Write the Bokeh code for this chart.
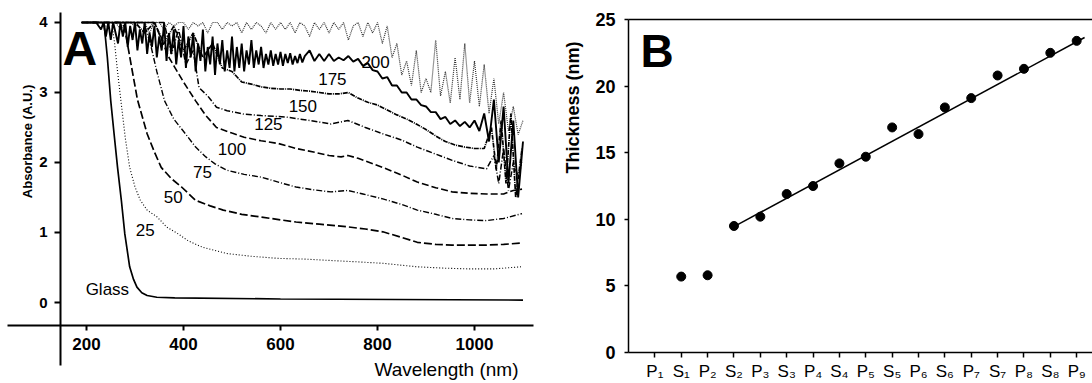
import math
from bokeh.plotting import figure
from bokeh.models import LinearAxis, Label, FixedTicker, ColumnDataSource
from bokeh.layouts import row
from bokeh.core.properties import value
from bokeh.embed import file_html
from bokeh.resources import INLINE

FONT = "Liberation Sans"

# ---------------- Panel A data: absorbance spectra ----------------
glass_nm = [190, 236, 243, 250, 257, 264, 272, 279, 289, 297, 304, 314, 325, 345, 382, 600, 1100]
glass_a = [4.0, 4.0, 3.5, 2.88, 2.4, 1.93, 1.45, 0.98, 0.51, 0.33, 0.22, 0.14, 0.10, 0.075, 0.067, 0.05, 0.035]

s25_nm = [190, 252, 258, 264, 271, 280, 289, 300, 311, 325, 346, 365, 389, 410, 439, 489, 540, 596, 650,
          704, 760, 811, 882, 940, 989, 1040, 1096]
s25_a = [4.0, 4.0, 3.7, 3.3, 2.88, 2.35, 1.93, 1.65, 1.46, 1.32, 1.22, 1.08, 0.98, 0.88, 0.79, 0.70, 0.66, 0.63, 0.62,
         0.60, 0.58, 0.56, 0.51, 0.49, 0.48, 0.48, 0.51]

s50_nm = [190, 276, 283, 293, 305, 325, 340, 354, 375, 396, 425, 455, 482, 520, 561, 600, 632, 680, 739, 775,
          811, 850, 882, 920, 954, 1025, 1060, 1098]
s50_a = [4.0, 4.0, 3.75, 3.36, 2.9, 2.41, 2.15, 1.93, 1.77, 1.65, 1.46, 1.38, 1.32, 1.26, 1.22, 1.18, 1.15, 1.12, 1.08, 1.05,
         1.01, 0.93, 0.86, 0.83, 0.82, 0.82, 0.83, 0.85]

s75_nm = [190, 318, 325, 332, 345, 361, 380, 404, 425, 446, 465, 489, 525, 561, 600, 632, 668, 704, 739, 770,
          811, 850, 882, 920, 954, 990, 1025, 1060, 1098]
s75_a = [4.0, 4.0, 3.85, 3.69, 3.3, 2.88, 2.62, 2.41, 2.22, 2.08, 1.98, 1.89, 1.83, 1.79, 1.71, 1.65, 1.61, 1.58, 1.6, 1.55,
         1.48, 1.4, 1.32, 1.26, 1.2, 1.18, 1.17, 1.2, 1.27]

s100_nm = [190, 340, 355, 370, 382, 400, 425, 445, 468, 500, 525, 560, 596, 632, 668, 700, 725, 739, 760, 811,
           850, 882, 920, 954, 990, 1025, 1060, 1080, 1098]
s100_a = [4.0, 4.0, 3.75, 3.5, 3.36, 3.15, 2.88, 2.68, 2.5, 2.42, 2.36, 2.31, 2.27, 2.2, 2.15, 2.1, 2.08, 2.1, 2.06, 1.93,
          1.82, 1.72, 1.64, 1.58, 1.56, 1.55, 1.55, 1.6, 1.62]

s125_nm = [190, 360, 375, 390, 405, 420, 432, 450, 468, 490, 525, 560, 611, 660, 704, 739, 775, 811, 850, 882,
           920, 954, 990, 1025, 1040, 1050, 1060, 1070, 1080, 1090, 1098]
s125_a = [4.0, 4.0, 3.55, 3.9, 3.4, 3.6, 3.07, 2.95, 2.79, 2.74, 2.69, 2.67, 2.65, 2.6, 2.55, 2.6, 2.5, 2.41, 2.32, 2.22,
          2.12, 2.03, 1.95, 1.91, 2.1, 1.7, 2.2, 1.6, 2.0, 1.8, 2.0]

s150_nm = [190, 300, 320, 340, 360, 380, 400, 420, 440, 460, 480, 500, 520, 540, 560, 580, 600, 620, 640, 660,
           680, 700, 720, 740, 760, 780, 800, 820, 840, 860, 880, 900, 920, 940, 960, 980, 1000, 1020,
           1035, 1045, 1055, 1065, 1075, 1085, 1098]
s150_a = [4.0, 4.0, 3.85, 4.0, 3.7, 3.95, 3.6, 3.85, 3.5, 3.7, 3.35, 3.3, 3.15, 3.12, 3.08, 3.06, 3.05, 3.05, 3.03, 3.02,
          3.0, 2.98, 2.98, 3.0, 2.92, 2.86, 2.82, 2.75, 2.68, 2.62, 2.55, 2.47, 2.38, 2.3, 2.25, 2.22, 2.2, 2.2,
          2.5, 1.9, 2.6, 1.7, 2.7, 1.5, 2.2]

s175_nm = [200, 210, 220] + list(range(230, 651, 5)) + list(range(660, 1101, 10))
s175_a = [4.0, 4.0, 4.0,
          3.9, 4.0, 3.8, 4.0, 3.75, 4.0, 3.85, 3.7, 4.0, 3.8,
          4.0, 3.65, 3.95, 3.75, 4.0, 3.6, 3.9, 3.7, 4.0, 3.55,
          3.85, 3.65, 3.95, 3.5, 3.8, 3.6, 4.0, 3.45, 3.85, 3.55,
          3.9, 3.4, 3.75, 3.5, 3.95, 3.35, 3.8, 3.5, 3.85, 3.3,
          3.7, 3.45, 3.9, 3.3, 3.65, 3.4, 3.8, 3.25, 3.7, 3.4,
          3.75, 3.3, 3.6, 3.35, 3.8, 3.3, 3.65, 3.35, 3.7, 3.3,
          3.6, 3.4, 3.75, 3.35, 3.6, 3.4, 3.65, 3.35, 3.55, 3.4,
          3.6, 3.38, 3.55, 3.4, 3.58, 3.38, 3.55, 3.42, 3.56, 3.4,
          3.52, 3.42, 3.55, 3.43, 3.52,
          3.6, 3.45, 3.55, 3.45, 3.55, 3.45, 3.5, 3.46, 3.52, 3.44,
          3.48, 3.38, 3.42, 3.32, 3.3, 3.2, 3.22, 3.1, 3.1, 3.0,
          3.0, 2.9, 2.9, 2.82, 2.8, 2.72, 2.72, 2.62, 2.65, 2.55,
          2.6, 2.52, 2.58, 2.5, 2.6, 2.45, 2.7, 2.3, 2.9, 2.0,
          2.8, 1.7, 2.6, 1.5, 2.3]

s200_nm = list(range(200, 1101, 10))
s200_a = [4.0, 4.0, 4.0, 4.0, 3.95, 4.0, 4.0, 3.9, 4.0, 4.0,
          3.95, 4.0, 4.0, 3.85, 4.0, 4.0, 3.9, 4.0, 3.95, 4.0,
          4.0, 3.9, 4.0, 3.95, 4.0, 3.85, 4.0, 4.0, 3.9, 4.0,
          3.95, 4.0, 3.85, 4.0, 3.9, 4.0, 3.95, 3.85, 4.0, 3.9,
          4.0, 3.9, 4.0, 3.85, 4.0, 3.95, 3.8, 4.0, 3.9, 4.0,
          3.85, 4.0, 3.9, 4.0, 3.75, 3.95, 4.0, 3.8, 4.0, 3.85,
          4.0, 3.7, 3.95, 3.5, 3.7, 3.25, 3.45, 3.1, 3.6, 3.0,
          3.2, 3.0, 3.75, 2.95, 3.3, 2.85, 3.5, 2.9, 3.7, 2.85,
          3.45, 2.8, 3.4, 2.7, 3.2, 2.55, 3.0, 2.45, 2.8, 2.4,
          2.6]

curve_labels = ["Glass", "25", "50", "75", "100", "125", "150", "175", "200"]
curve_label_nm = [243, 321, 379, 439, 500, 575, 646, 707, 796]
curve_label_a = [0.18, 1.03, 1.5, 1.86, 2.19, 2.55, 2.81, 3.19, 3.43]

wl_ticks = [200, 400, 600, 800, 1000]
abs_ticks = [0, 1, 2, 3, 4]

# ---------------- Panel B data: thickness ----------------
layers = ["P₁", "S₁", "P₂", "S₂", "P₃", "S₃", "P₄", "S₄", "P₅", "S₅", "P₆", "S₆", "P₇", "S₇", "P₈", "S₈", "P₉"]
thickness = [float("nan"), 5.7, 5.8, 9.5, 10.2, 11.9, 12.5, 14.2, 14.7, 16.9, 16.4, 18.4, 19.1, 20.8, 21.3, 22.5, 23.4]
fit_pos = [4, 17.3]
fit_val = [9.45, 23.65]
thick_ticks = [0, 5, 10, 15, 20, 25]

# ======================= Panel A =======================
WA, H = 545, 383
pA = figure(width=WA, height=H, x_range=(22.68, 1146.4), y_range=(-1.157, 4.314),
            x_axis_location=None, y_axis_location=None, toolbar_location=None,
            output_backend="svg", min_border_left=0, min_border_right=0,
            min_border_top=0, min_border_bottom=0)
pA.outline_line_color = None
pA.xgrid.grid_line_color = None
pA.ygrid.grid_line_color = None


def axis_style(ax, lw, tick_len, fsize, standoff):
    ax.axis_line_width = lw
    ax.axis_line_color = "black"
    ax.major_tick_line_width = lw
    ax.major_tick_line_color = "black"
    ax.major_tick_out = tick_len
    ax.major_tick_in = 0
    ax.minor_tick_out = 0
    ax.minor_tick_in = 0
    ax.major_label_text_font = FONT
    ax.major_label_text_font_style = "bold"
    ax.major_label_text_font_size = fsize
    ax.major_label_text_color = "black"
    ax.major_label_standoff = standoff


xa = LinearAxis(fixed_location=-0.33, ticker=FixedTicker(ticks=wl_ticks), bounds=(37, 1122))
axis_style(xa, 2, 5, "17px", 7)
pA.add_layout(xa, "below")
ya = LinearAxis(fixed_location=146.4, ticker=FixedTicker(ticks=abs_ticks), bounds=(-0.9, 4.14))
axis_style(ya, 2, 6, "15px", 7)
pA.add_layout(ya, "left")

series = [
    (s200_nm, s200_a, "#333333", 1.2, "1 1"),
    (s175_nm, s175_a, "black", 1.9, "solid"),
    (s150_nm, s150_a, "black", 1.7, "5 1 1 1"),
    (s125_nm, s125_a, "black", 1.5, "6 2 1 2"),
    (s100_nm, s100_a, "black", 1.6, "7 3"),
    (s75_nm, s75_a, "black", 1.4, "6 2 1 2"),
    (s50_nm, s50_a, "black", 1.7, "8 3"),
    (s25_nm, s25_a, "black", 1.1, "1 2"),
    (glass_nm, glass_a, "black", 1.7, "solid"),
]
for xs, ys, col, lw, dash in series:
    pA.line(xs, ys, line_color=col, line_width=lw, line_dash=dash)

lab_src = ColumnDataSource(dict(x=curve_label_nm, y=curve_label_a, t=curve_labels))
pA.text(x="x", y="y", text="t", source=lab_src, text_font=value(FONT), text_font_size="17px",
        text_align="center", text_baseline="middle", text_color="black")

pA.add_layout(Label(x=150.5, y=3.63, text="A", text_font=FONT, text_font_size="48px", text_color="black",
                    text_font_style="bold", text_baseline="alphabetic", text_align="left"))
pA.add_layout(Label(x=1090.7, y=-0.957, text="Wavelength (nm)", text_font=FONT, text_font_size="19px",
                    text_color="black", text_baseline="alphabetic", text_align="right"))
pA.add_layout(Label(x=78.4, y=2.30, text="Absorbance (A.U.)", text_font=FONT, text_font_size="13px",
                    text_color="black", text_font_style="bold", angle=math.pi / 2,
                    text_baseline="middle", text_align="center"))

# ======================= Panel B =======================
WB = 1092 - WA
pB = figure(width=WB, height=H, x_range=(-3.149, 17.60), y_range=(-2.327, 26.43),
            x_axis_location=None, y_axis_location=None, toolbar_location=None,
            output_backend="svg", min_border_left=0, min_border_right=0,
            min_border_top=0, min_border_bottom=0)
pB.outline_line_color = None
pB.xgrid.grid_line_color = None
pB.ygrid.grid_line_color = None

positions = list(range(1, len(layers) + 1))
xb = LinearAxis(fixed_location=0, ticker=FixedTicker(ticks=positions), bounds=(0, 17.6),
                major_label_overrides={p: lab for p, lab in zip(positions, layers)})
axis_style(xb, 1.5, 5, "17px", 4)
xb.major_label_text_font_style = "normal"
pB.add_layout(xb, "below")

yb = LinearAxis(fixed_location=0, ticker=FixedTicker(ticks=thick_ticks), bounds=(0, 25))
axis_style(yb, 1.5, 4, "18px", 9)
pB.add_layout(yb, "left")

tb = LinearAxis(fixed_location=25, ticker=FixedTicker(ticks=[]), bounds=(0, 17.6))
axis_style(tb, 1.5, 0, "0px", 0)
pB.add_layout(tb, "above")

pB.line(fit_pos, fit_val, line_color="black", line_width=1.5)
pB.scatter(positions, thickness, size=9, marker="circle", fill_color="black", line_color="black")

pB.add_layout(Label(x=0.455, y=22.67, text="B", text_font=FONT, text_font_size="46px", text_color="black",
                    text_font_style="bold", text_baseline="alphabetic", text_align="left"))
pB.add_layout(Label(x=-2.09, y=18.4, text="Thickness (nm)", text_font=FONT, text_font_size="18px",
                    text_color="black", text_font_style="bold", angle=math.pi / 2,
                    text_baseline="middle", text_align="center"))

layout = row(pA, pB)
open("out.html", "w").write(file_html(layout, INLINE))
